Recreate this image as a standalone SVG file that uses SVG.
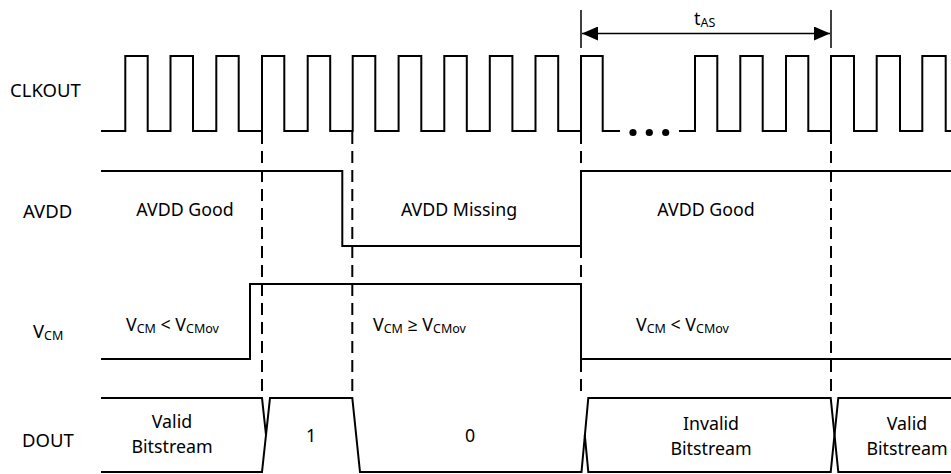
<svg xmlns="http://www.w3.org/2000/svg" width="951" height="474" viewBox="0 0 951 474">
<defs>
<style>
.sig{fill:none;stroke:#000;stroke-width:2;stroke-linejoin:miter}
.dash{fill:none;stroke:#000;stroke-width:2;stroke-dasharray:12,7}
.ext{fill:none;stroke:#000;stroke-width:1.5}
text{font-family:"Noto Sans","Open Sans","DejaVu Sans",sans-serif;font-size:17.8px;fill:#000}
.lbl{font-size:18.5px}
.c{text-anchor:middle}
.sub{font-size:12.5px}
</style>
<marker id="ah" viewBox="0 0 16 14" refX="16" refY="7" markerWidth="16" markerHeight="14" markerUnits="userSpaceOnUse" orient="auto-start-reverse">
<path d="M0,0 L16,7 L0,14 Z" fill="#000"/>
</marker>
</defs>
<rect width="951" height="474" fill="#fff"/>
<g id="labels">
<text class="lbl" x="10" y="97">CLKOUT</text>
<text class="lbl" x="23" y="218">AVDD</text>
<text class="lbl" x="33" y="338">V<tspan class="sub" dy="2">CM</tspan></text>
<text class="lbl" x="22" y="447">DOUT</text>
</g>
<g id="clkout">
<path class="sig" d="M101,131 H125.3 V56 H147.7 V131 H170.5 V56 H193 V131 H216.3 V56 H238.7 V131 H262 V56 H284.3 V131 H307.7 V56 H330.2 V131 H352.7 V56 H375.3 V131 H398.6 V56 H421.3 V131 H444.3 V56 H466.8 V131 H489.8 V56 H512.4 V131 H535.5 V56 H558.2 V131 H581 V56 H602.7 V131 H620"/>
<path class="sig" d="M679,131 H695 V56 H717.3 V131 H740.3 V56 H762.7 V131 H786 V56 H808.3 V131 H831 V56 H854 V131 H876.7 V56 H900 V131 H922.3 V56 H945.7 V131 H951"/>
<circle cx="633" cy="132.5" r="3.6"/>
<circle cx="649.3" cy="132.5" r="3.6"/>
<circle cx="665.7" cy="132.5" r="3.6"/>
</g>
<g id="avdd">
<path class="sig" d="M101,171 H342.3 V246 H581 V171 H951"/>
<text class="c" x="185" y="216">AVDD Good</text>
<text class="c" x="459" y="216">AVDD Missing</text>
<text class="c" x="706" y="216">AVDD Good</text>
</g>
<g id="vcm">
<path class="sig" d="M101,359 H250 V284 H581 V359 H951"/>
<text x="126" y="331">V<tspan class="sub" dy="2">CM</tspan><tspan dy="-2"> &lt; V</tspan><tspan class="sub" dy="2">CMov</tspan></text>
<text x="373" y="331">V<tspan class="sub" dy="2">CM</tspan><tspan dy="-2"> ≥ V</tspan><tspan class="sub" dy="2">CMov</tspan></text>
<text x="636" y="331">V<tspan class="sub" dy="2">CM</tspan><tspan dy="-2"> &lt; V</tspan><tspan class="sub" dy="2">CMov</tspan></text>
</g>
<g id="dout">
<path class="sig" d="M101,398 H262 L266,435"/>
<path class="sig" d="M101,472 H262 L270,398 H352.3 L360,472 H581.5 L588.3,398 H830.7 L838.3,472 H951"/>
<path class="sig" d="M584.8,435 L588.3,472 H830.7 L838.3,398 H951"/>
<text class="c" x="172" y="428">Valid</text>
<text class="c" x="172" y="453">Bitstream</text>
<text class="c" x="311" y="442">1</text>
<text class="c" x="470" y="442">0</text>
<text class="c" x="711" y="430">Invalid</text>
<text class="c" x="711" y="455">Bitstream</text>
<text class="c" x="907" y="430">Valid</text>
<text class="c" x="907" y="455">Bitstream</text>
</g>
<g id="connectors">
<path class="dash" d="M262,132 V398"/>
<path class="dash" d="M352.3,132 V398"/>
<path class="dash" d="M581,132 V398"/>
<path class="dash" d="M831,132 V398"/>
<path class="ext" d="M581,10 V48"/>
<path class="ext" d="M831,10 V48"/>
<path class="ext" d="M582,33.5 H830" marker-start="url(#ah)" marker-end="url(#ah)"/>
<text x="694" y="25">t<tspan class="sub" dy="2">AS</tspan></text>
</g>
</svg>
